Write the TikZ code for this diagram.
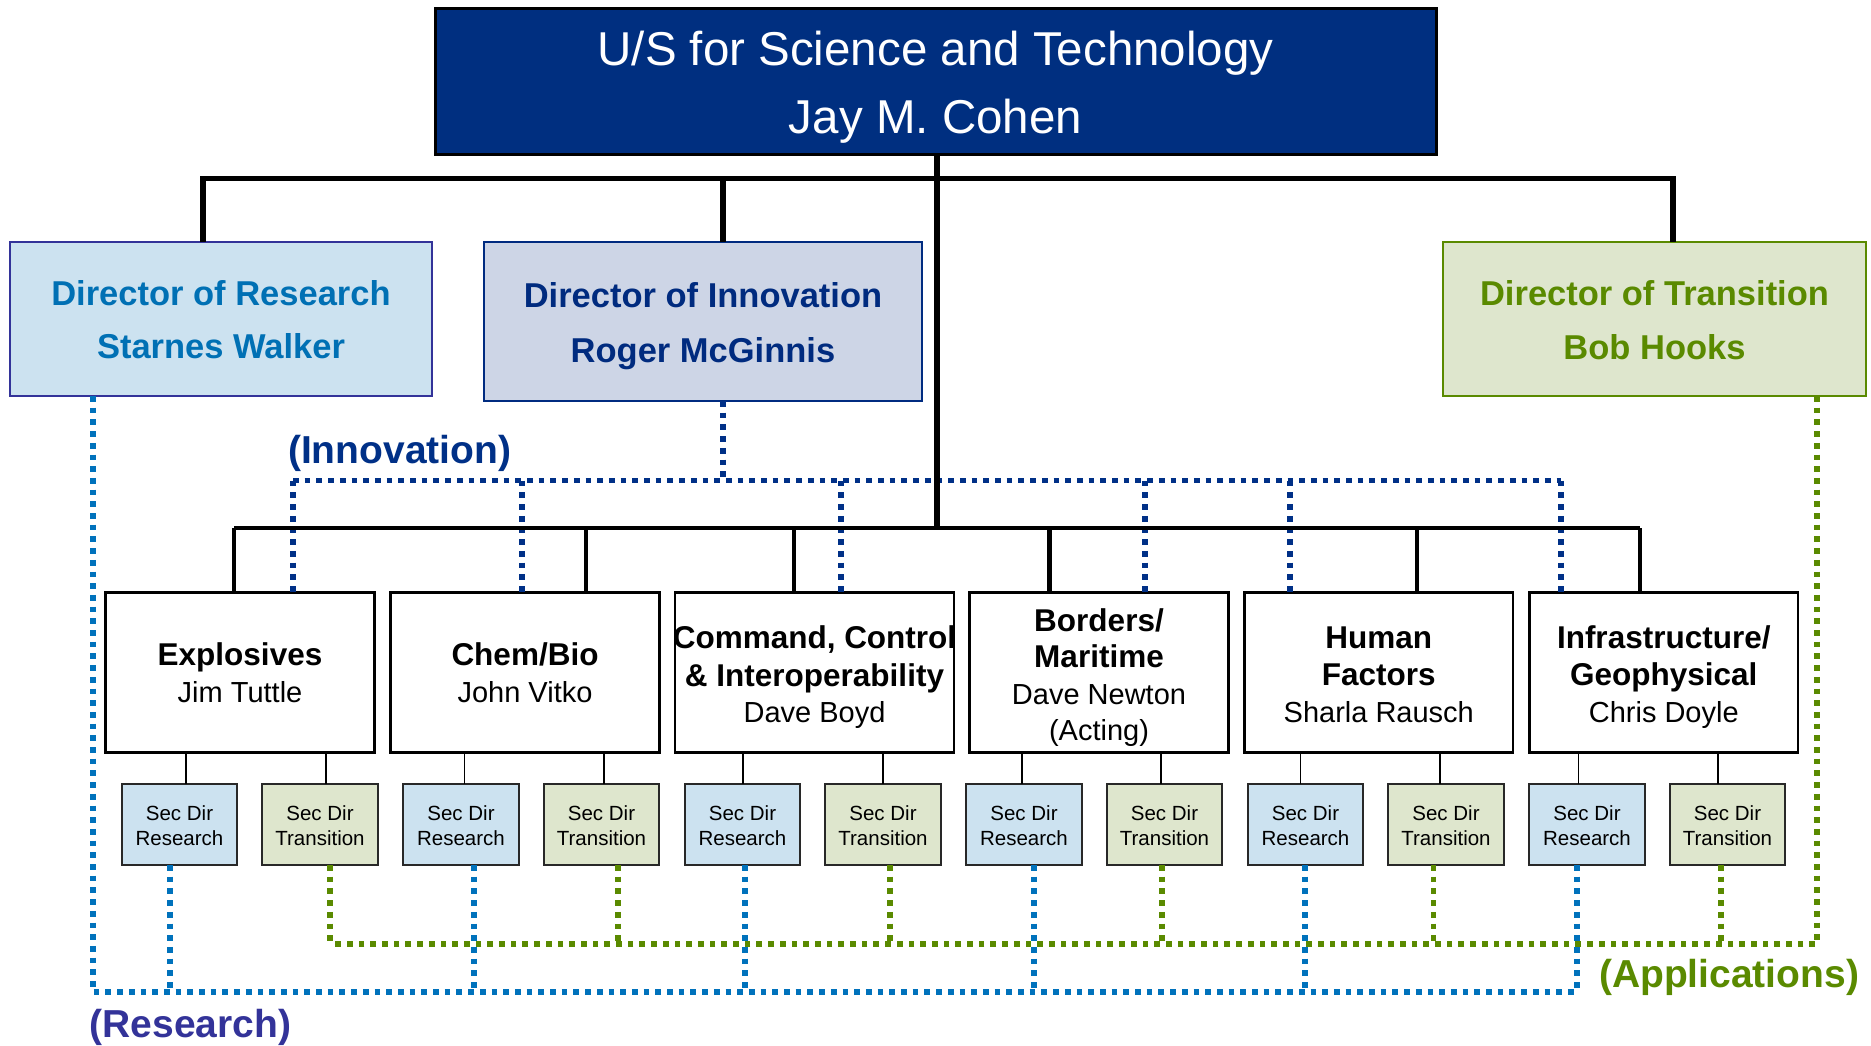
\documentclass[tikz,border=0pt]{standalone}
\usepackage{fontspec}
\setmainfont{Liberation Sans}
\usetikzlibrary{calc}
\definecolor{navy}{RGB}{0,47,128}
\definecolor{rfill}{RGB}{204,226,240}
\definecolor{rborder}{RGB}{51,51,153}
\definecolor{rtext}{RGB}{0,112,180}
\definecolor{ifill}{RGB}{205,213,230}
\definecolor{iborder}{RGB}{0,43,128}
\definecolor{itext}{RGB}{0,43,127}
\definecolor{tfill}{RGB}{222,230,205}
\definecolor{tgreen}{RGB}{90,138,0}
\definecolor{rdotc}{RGB}{0,114,188}
\definecolor{idotc}{RGB}{0,48,135}
\definecolor{secborder}{RGB}{40,40,40}
\tikzset{
  boxbase/.style={inner sep=0pt, outer sep=0pt},
  topbox/.style={boxbase, draw=black, line width=1.5pt, fill=navy, minimum width=500.5pt, minimum height=73pt},
  resbox/.style={boxbase, draw=rborder, line width=1pt, fill=rfill, minimum width=211pt, minimum height=77pt},
  innbox/.style={boxbase, draw=iborder, line width=1pt, fill=ifill, minimum width=219pt, minimum height=79.5pt},
  trabox/.style={boxbase, draw=tgreen, line width=1pt, fill=tfill, minimum width=211.5pt, minimum height=77pt},
  mainbox/.style={boxbase, draw=black, line width=1.2pt, fill=white, minimum height=80pt},
  secr/.style={boxbase, draw=secborder, line width=1pt, fill=rfill, minimum width=57.8pt, minimum height=40.5pt},
  sect/.style={boxbase, draw=secborder, line width=1pt, fill=tfill, minimum width=57.8pt, minimum height=40.5pt},
  txt/.style={anchor=base, inner sep=0pt},
  toptxt/.style={txt, text=white, font=\fontsize{23.75}{28}\selectfont},
  dirtxt/.style={txt, font=\bfseries\fontsize{17.25}{20}\selectfont},
  ttl/.style={txt, font=\bfseries\fontsize{15.75}{18}\selectfont},
  nm/.style={txt, font=\fontsize{14.5}{17}\selectfont},
  sectxt/.style={txt, font=\fontsize{10.25}{12}\selectfont},
  lbl/.style={txt, font=\bfseries\fontsize{19.5}{23}\selectfont},
  bkone/.style={draw=black, line width=2.6pt},
  bktwo/.style={draw=black, line width=2.3pt},
  thinline/.style={draw=black, line width=0.9pt},
  dotline/.style={line width=2.6pt, dash pattern=on 2.85pt off 3pt},
  rdot/.style={dotline, draw=rdotc},
  gdot/.style={dotline, draw=tgreen},
  idot/.style={dotline, draw=idotc},
}
\begin{document}
\begin{tikzpicture}[x=0.5pt,y=-0.5pt]
\useasboundingbox (0,0) rectangle (1871,1045);

% ---------- boxes ----------
\node[topbox] (top) at (935.5,81) {};
\node[resbox] (dr) at (221,319) {};
\node[innbox] (di) at (703,321.5) {};
\node[trabox] (dt) at (1654.5,319) {};

\node[mainbox, minimum width=134.5pt] (m1) at (240,672.5) {};
\node[mainbox, minimum width=134.5pt] (m2) at (525,672.5) {};
\node[mainbox, minimum width=139.5pt] (m3) at (814.5,672.5) {};
\node[mainbox, minimum width=129.5pt] (m4) at (1099,672.5) {};
\node[mainbox, minimum width=134.25pt] (m5) at (1378.75,672.5) {};
\node[mainbox, minimum width=134.25pt] (m6) at (1663.75,672.5) {};

\foreach \k in {1,...,6} {
  \node[secr] (sr\k) at ({179.5+281.5*(\k-1)},824.5) {};
  \node[sect] (st\k) at ({320+281.5*(\k-1)},824.5) {};
  \node[sectxt] (srA\k) at ({179.5+281.5*(\k-1)},820) {Sec Dir};
  \node[sectxt] (srB\k) at ({179.5+281.5*(\k-1)},845) {Research};
  \node[sectxt] (stA\k) at ({320+281.5*(\k-1)},820) {Sec Dir};
  \node[sectxt] (stB\k) at ({320+281.5*(\k-1)},845) {Transition};
}

% ---------- reference coordinates ----------
\coordinate (ub) at (0,178.5);
\coordinate (lb) at (0,528);
\coordinate (ux1) at (203,0);
\coordinate (ux2) at (723,0);
\coordinate (ux3) at (1673,0);
\coordinate (cx) at (937,0);
\foreach \k/\x in {1/234,2/586,3/794,4/1049.5,5/1417,6/1640} {\coordinate (lx\k) at (\x,0);}
\foreach \k/\x in {1/186,2/464.5,3/743,4/1022,5/1300.5,6/1578.5} {\coordinate (cr\k) at (\x,0);}
\foreach \k/\x in {1/325.7,2/604.2,3/882.7,4/1161.2,5/1439.7,6/1718.2} {\coordinate (ct\k) at (\x,0);}
\foreach \k/\x in {1/170,2/474,3/745,4/1034,5/1305,6/1577} {\coordinate (rx\k) at (\x,0);}
\foreach \k/\x in {1/330,2/618,3/890,4/1162,5/1433.5,6/1721} {\coordinate (tx\k) at (\x,0);}
\foreach \k/\x in {1/293,2/522,3/841,4/1145,5/1290,6/1561} {\coordinate (ix\k) at (\x,0);}
\coordinate (rbusL) at (93,992);
\coordinate (tbusR) at (1817,944);
\coordinate (ibus) at (0,480.7);

% ---------- dotted connectors ----------
\draw[rdot] (dr.south -| rbusL) -- (rbusL) -- (rbusL -| rx6);
\foreach \k in {1,...,6} {\draw[rdot] (sr\k.south -| rx\k) -- (rx\k |- rbusL);}
\draw[gdot] (dt.south -| tbusR) -- (tbusR) -- (tbusR -| tx1);
\foreach \k in {1,...,6} {\draw[gdot] (st\k.south -| tx\k) -- (tx\k |- tbusR);}
\draw[idot] (di.south -| ux2) -- (ux2 |- ibus);
\draw[idot] (ix1 |- ibus) -- (ix6 |- ibus);
\foreach \k in {1,...,6} {\draw[idot] (ix\k |- ibus) -- (m\k.north -| ix\k);}

% ---------- solid connectors ----------
\draw[bkone] (dr.north -| ux1) -- (ux1 |- ub) -- (ux3 |- ub) -- (dt.north -| ux3);
\draw[bkone] (di.north -| ux2) -- (ux2 |- ub);
\draw[bkone] (top.south -| cx) -- (cx |- lb);
\draw[bktwo] (lx1 |- lb) -- (lx6 |- lb);
\foreach \k in {1,...,6} {
  \draw[bktwo] (lx\k |- lb) -- (m\k.north -| lx\k);
  \draw[thinline] (m\k.south -| cr\k) -- (sr\k.north -| cr\k);
  \draw[thinline] (m\k.south -| ct\k) -- (st\k.north -| ct\k);
}

% ---------- texts ----------
\node[toptxt] (t0a) at (935.5,65) {U/S for Science and Technology};
\node[toptxt] (t0b) at (935.5,133) {Jay M. Cohen};

\node[dirtxt, text=rtext] (tra) at (221,305) {Director of Research};
\node[dirtxt, text=rtext] (trb) at (221,358) {Starnes Walker};
\node[dirtxt, text=itext] (tia) at (703,307) {Director of Innovation};
\node[dirtxt, text=itext] (tib) at (703,362) {Roger McGinnis};
\node[dirtxt, text=tgreen] (tta) at (1654.5,305) {Director of Transition};
\node[dirtxt, text=tgreen] (ttb) at (1654.5,359) {Bob Hooks};

\node[ttl] (t1a) at (240,665) {Explosives};
\node[nm]  (t1b) at (240,702) {Jim Tuttle};
\node[ttl] (t2a) at (525,665) {Chem/Bio};
\node[nm]  (t2b) at (525,702) {John Vitko};
\node[ttl] (t3a) at (814.5,648) {Command, Control};
\node[ttl] (t3b) at (814.5,686) {\& Interoperability};
\node[nm]  (t3c) at (814.5,722) {Dave Boyd};
\node[ttl] (t4a) at (1099,631) {Borders/};
\node[ttl] (t4b) at (1099,667.5) {Maritime};
\node[nm]  (t4c) at (1099,704) {Dave Newton};
\node[nm]  (t4d) at (1099,740) {(Acting)};
\node[ttl] (t5a) at (1378.75,648) {Human};
\node[ttl] (t5b) at (1378.75,685) {Factors};
\node[nm]  (t5c) at (1378.75,722) {Sharla Rausch};
\node[ttl] (t6a) at (1663.75,648) {Infrastructure/};
\node[ttl] (t6b) at (1663.75,685) {Geophysical};
\node[nm]  (t6c) at (1663.75,722) {Chris Doyle};

\node[lbl, text=idotc] (linn) at (399.7,463) {(Innovation)};
\node[lbl, text=rborder] (lres) at (190.5,1037) {(Research)};
\node[lbl, text=tgreen] (lapp) at (1729,987) {(Applications)};
\end{tikzpicture}
\end{document}
